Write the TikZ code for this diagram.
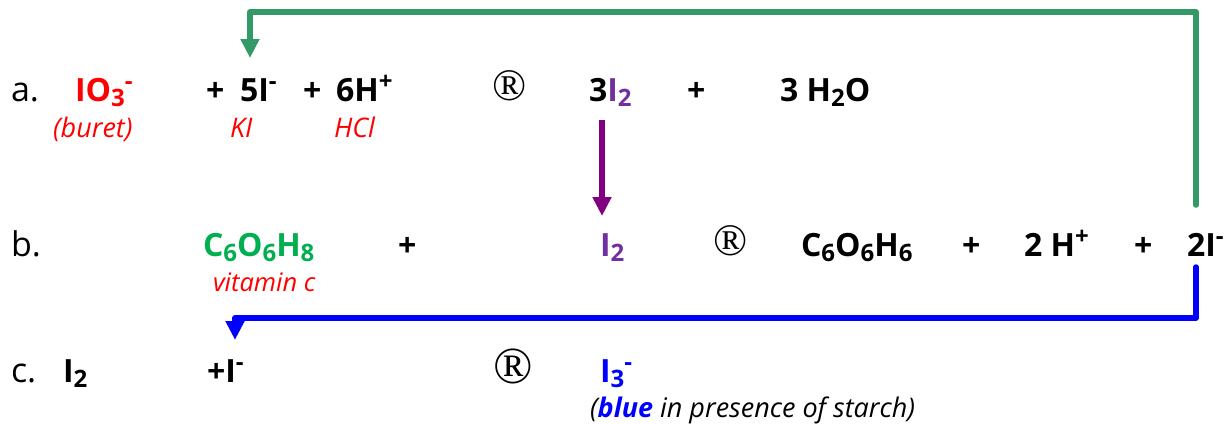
\documentclass[tikz,border=0pt]{standalone}
\usepackage{fontspec}
\setmainfont{Open Sans}
\newfontfamily\serifR{Liberation Serif}
\usetikzlibrary{arrows.meta}
\newcommand\dn[1]{\raisebox{-5pt}{\fontsize{24}{24}\selectfont #1}}
\newcommand\up[1]{\raisebox{12pt}{\fontsize{24}{24}\selectfont #1}}
\definecolor{cred}{HTML}{FF0000}
\definecolor{cgreen}{HTML}{00B050}
\definecolor{cpurple}{HTML}{7030A0}
\definecolor{arrpurple}{HTML}{800080}
\definecolor{arrgreen}{HTML}{339966}
\definecolor{cblue}{HTML}{0000FF}
\tikzset{
  every node/.style={inner sep=0pt,outer sep=0pt,anchor=base west},
  lab/.style={font=\fontsize{34}{34}\selectfont},
  chem/.style={font=\fontsize{32}{32}\selectfont\bfseries},
  note/.style={font=\fontsize{27}{27}\selectfont\itshape,text=cred},
  rmark/.style={font=\fontsize{45}{45}\serifR,anchor=center},
  connplain/.style={line width=5.5pt,line join=round,line cap=butt,-{Triangle[length=19pt,width=18pt]}}
}
\begin{document}
\begin{tikzpicture}[x=1pt,y=-1pt]
\useasboundingbox (0,0) rectangle (1230,423);
% row a
\node[lab] (la) at (11,101) {a.};
\node[chem,text=cred] (ioa) at (75,101) {IO\dn{3}\up{-}};
\node[note] (buret) at (53,137) {(buret)};
\node[chem] (p1) at (206,101) {+};
\node[chem] (fivei) at (240,101) {5I\up{-}};
\node[chem] (p2) at (303,101) {+};
\node[chem] (sixh) at (336,101) {6H\up{+}};
\node[note] (ki) at (230,137) {KI};
\node[note] (hcl) at (334,137) {HCl};
\node[rmark] (ra) at (510,86) {®};
\node[chem] (threei) at (589,101) {3\textcolor{cpurple}{I\dn{2}}};
\node[chem] (p3) at (687,101) {+};
\node[chem] (water) at (780,101) {3 H\dn{2}O};
% row b
\node[lab] (lb) at (11,256) {b.};
\node[chem,text=cgreen] (vit) at (203,256) {C\dn{6}O\dn{6}H\dn{8}};
\node[note,font=\fontsize{25.5}{25.5}\selectfont\itshape] (vitc) at (213,291) {vitamin c};
\node[chem] (p4) at (398,256) {+};
\node[chem,text=cpurple] (itwo) at (600,256) {I\dn{2}};
\node[rmark] (rb) at (731,241) {®};
\node[chem] (dehydro) at (801,256) {C\dn{6}O\dn{6}H\dn{6}};
\node[chem] (p5) at (962,256) {+};
\node[chem] (twoh) at (1024,256) {2 H\up{+}};
\node[chem] (p6) at (1134,256) {+};
\node[chem] (twoi) at (1187,256) {2I\up{-}};
% row c
\node[lab] (lc) at (11,382) {c.};
\node[chem] (ic) at (63,382) {I\dn{2}};
\node[chem] (pi) at (207,382) {+I\up{-}};
\node[rmark,font=\fontsize{52}{52}\serifR] (rc) at (513,366) {®};
\node[chem,text=cblue] (ithree) at (600,382) {I\dn{3}\up{-}};
\node[note,text=black] (starch) at (590,417) {(\textcolor{cblue}{\bfseries blue} in presence of starch)};
% connector ends
\coordinate (gs) at (1196,205);
\coordinate (gc) at (1196,12);
\coordinate (gm) at (250,12);
\coordinate (ge) at (250,58);
\coordinate (ps) at (602,120);
\coordinate (pe) at (602,216);
\coordinate (bs) at (1196,267);
\coordinate (bc) at (1196,318);
\coordinate (bm) at (235,318);
\coordinate (be) at (235,340);
\draw[connplain,arrgreen,line cap=round] (gs) -- (gc) -- (gm) -- (ge);
\draw[connplain,arrpurple] (ps) -- (pe);
\draw[connplain,cblue,line cap=round] (bs) -- (bc) -- (bm) -- (be);
\end{tikzpicture}
\end{document}
